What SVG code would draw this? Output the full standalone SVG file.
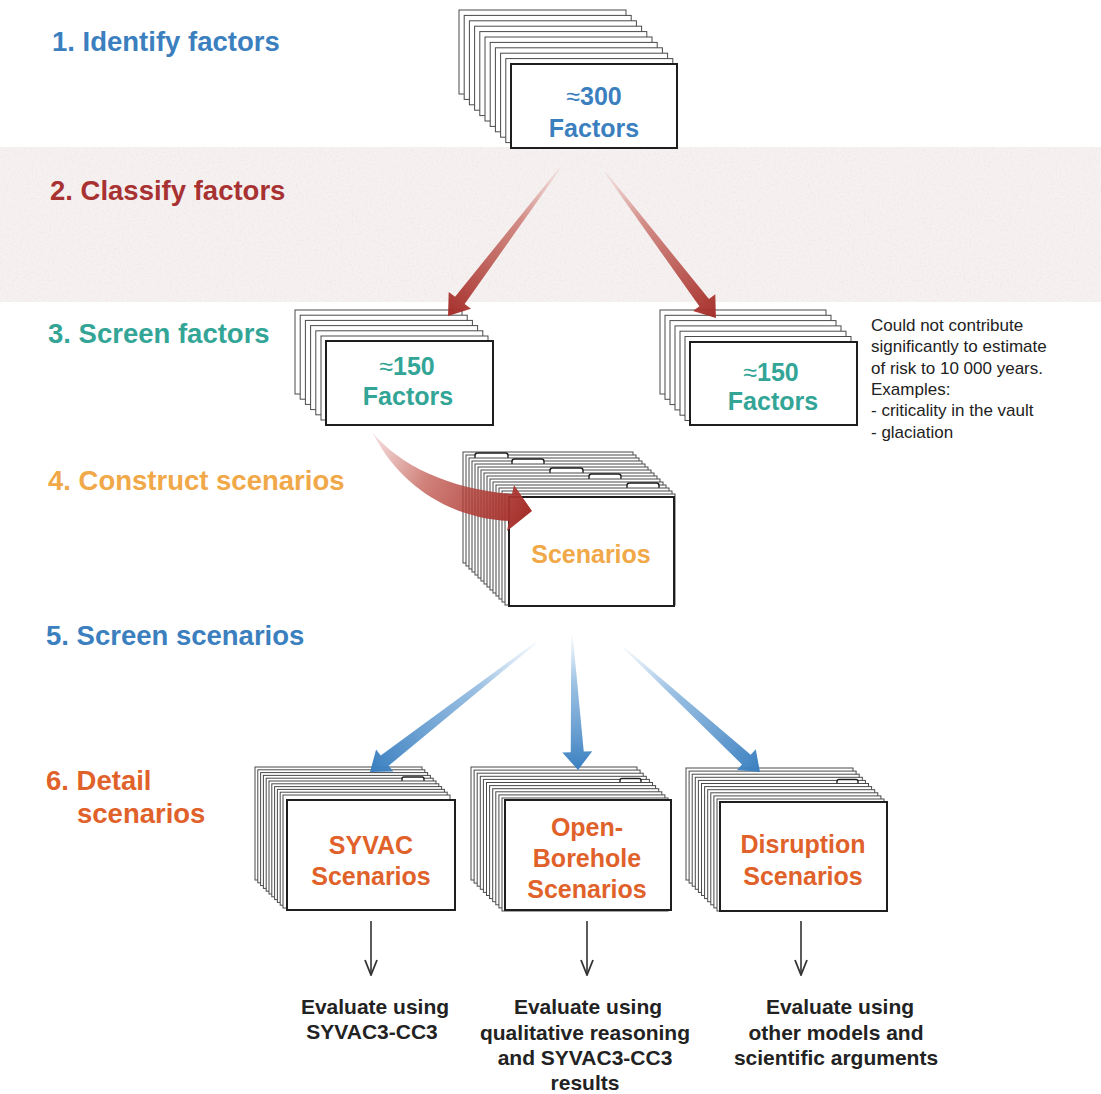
<svg xmlns="http://www.w3.org/2000/svg" xmlns:xlink="http://www.w3.org/1999/xlink" width="1101" height="1094" viewBox="0 0 1101 1094">
  <style>
    .bk { fill: #fff; stroke: #4a4a4a; stroke-width: 1; }
    .fr { fill: #fff; stroke: #1e1e1e; stroke-width: 2; }
    .tab { fill: #fff; stroke: #1e1e1e; stroke-width: 1.4; }
    .step { font-family: "Liberation Sans", Arial, sans-serif; font-weight: bold; font-size: 27.5px; }
    .card { font-family: "Liberation Sans", Arial, sans-serif; font-weight: bold; font-size: 25px; text-anchor: middle; }
    .approx { font-weight: normal; }
    .note { font-family: "Liberation Sans", Arial, sans-serif; font-size: 17px; fill: #222; }
    .eval { font-family: "Liberation Sans", Arial, sans-serif; font-weight: bold; font-size: 21px; fill: #222; text-anchor: middle; }
    .blue { fill: #3b7fbf; }
    .red { fill: #a83232; }
    .teal { fill: #33a596; }
    .orange { fill: #f0a848; }
    .rust { fill: #e0622a; }
    .thin { stroke: #333; stroke-width: 1.6; fill: none; }
  </style>
  <defs>
    <linearGradient id="gRed" x1="0" y1="0" x2="1" y2="0">
      <stop offset="0" stop-color="#c24a40" stop-opacity="0.05"/>
      <stop offset="0.35" stop-color="#bb4a40" stop-opacity="0.6"/>
      <stop offset="1" stop-color="#a52f2b" stop-opacity="1"/>
    </linearGradient>
    <linearGradient id="gBlue" x1="0" y1="0" x2="1" y2="0">
      <stop offset="0" stop-color="#6fa6d8" stop-opacity="0.05"/>
      <stop offset="0.35" stop-color="#5b98d0" stop-opacity="0.6"/>
      <stop offset="1" stop-color="#3a7fc0" stop-opacity="1"/>
    </linearGradient>
    <linearGradient id="gCurve" gradientUnits="userSpaceOnUse" x1="372" y1="432" x2="530" y2="512">
      <stop offset="0" stop-color="#c24a40" stop-opacity="0.15"/>
      <stop offset="0.4" stop-color="#bb4a40" stop-opacity="0.7"/>
      <stop offset="1" stop-color="#a52f2b" stop-opacity="1"/>
    </linearGradient>
    <marker id="ah" viewBox="-1 -8 17 16" refX="15" refY="0" markerWidth="17" markerHeight="16" markerUnits="userSpaceOnUse" orient="auto">
      <path d="M0,-6 L15,0 L0,6" fill="none" stroke="#333" stroke-width="1.8"/>
    </marker>
    <filter id="grain" x="0" y="0" width="100%" height="100%">
      <feTurbulence type="fractalNoise" baseFrequency="0.5" numOctaves="2" seed="4"/>
      <feColorMatrix type="matrix" values="0 0 0 0 0.84  0 0 0 0 0.74  0 0 0 0 0.74  0 0 0 -2.4 1.35"/>
    </filter>
  </defs>

  <!-- shaded classification band -->
  <g id="band">
    <rect x="0" y="147" width="1101" height="155" fill="#f6f1f1"/>
    <rect x="0" y="147" width="1101" height="155" filter="url(#grain)" opacity="0.5"/>
  </g>

  <!-- step labels -->
  <g id="steps">
    <text class="step blue" x="52" y="51">1. Identify factors</text>
    <text class="step red" x="50" y="200">2. Classify factors</text>
    <text class="step teal" x="48" y="343">3. Screen factors</text>
    <text class="step orange" x="48" y="490">4. Construct scenarios</text>
    <text class="step blue" x="46" y="645">5. Screen scenarios</text>
    <text class="step rust" x="46" y="790">6. Detail</text>
    <text class="step rust" x="77" y="823">scenarios</text>
  </g>

  <!-- stack of all identified factors -->
  <g id="factors300">
    <rect class="bk" x="459" y="10" width="167" height="84"/>
    <rect class="bk" x="464.2" y="15.4" width="167" height="84"/>
    <rect class="bk" x="469.4" y="20.8" width="167" height="84"/>
    <rect class="bk" x="474.6" y="26.2" width="167" height="84"/>
    <rect class="bk" x="479.8" y="31.6" width="167" height="84"/>
    <rect class="bk" x="485" y="37" width="167" height="84"/>
    <rect class="bk" x="490.2" y="42.4" width="167" height="84"/>
    <rect class="bk" x="495.4" y="47.8" width="167" height="84"/>
    <rect class="bk" x="500.6" y="53.2" width="167" height="84"/>
    <rect class="bk" x="505.8" y="58.6" width="167" height="84"/>
    <rect class="fr" x="511" y="64" width="166" height="84"/>
    <text class="card blue" x="594" y="105"><tspan class="approx">≈</tspan>300</text>
    <text class="card blue" x="594" y="137">Factors</text>
  </g>

  <!-- factors retained after screening -->
  <g id="factors150kept">
    <rect class="bk" x="295" y="310" width="167" height="84"/>
    <rect class="bk" x="300.2" y="315.2" width="167" height="84"/>
    <rect class="bk" x="305.4" y="320.4" width="167" height="84"/>
    <rect class="bk" x="310.6" y="325.6" width="167" height="84"/>
    <rect class="bk" x="315.8" y="330.8" width="167" height="84"/>
    <rect class="bk" x="321" y="336" width="167" height="84"/>
    <rect class="fr" x="326" y="341" width="167" height="84"/>
    <text class="card teal" x="407" y="375"><tspan class="approx">≈</tspan>150</text>
    <text class="card teal" x="408" y="405">Factors</text>
  </g>

  <!-- factors screened out -->
  <g id="factors150dropped">
    <rect class="bk" x="660" y="310" width="166" height="84"/>
    <rect class="bk" x="665" y="315.3" width="166" height="84"/>
    <rect class="bk" x="670" y="320.6" width="166" height="84"/>
    <rect class="bk" x="675" y="325.9" width="166" height="84"/>
    <rect class="bk" x="680" y="331.2" width="166" height="84"/>
    <rect class="bk" x="685" y="336.5" width="166" height="84"/>
    <rect class="fr" x="690" y="342" width="167" height="83"/>
    <text class="card teal" x="771" y="381"><tspan class="approx">≈</tspan>150</text>
    <text class="card teal" x="773" y="410">Factors</text>
    <text class="note" x="871" y="331">Could not contribute</text>
    <text class="note" x="871" y="352">significantly to estimate</text>
    <text class="note" x="871" y="374">of risk to 10 000 years.</text>
    <text class="note" x="871" y="395">Examples:</text>
    <text class="note" x="871" y="416">- criticality in the vault</text>
    <text class="note" x="871" y="438">- glaciation</text>
  </g>

  <!-- tabbed card file of scenarios -->
  <g id="scenarios">
    <rect class="bk" x="463" y="452" width="170" height="111"/>
    <rect class="bk" x="466" y="455" width="170" height="111"/>
    <rect class="tab" x="475" y="453" width="33" height="7" rx="2.5"/>
    <rect class="bk" x="469" y="458" width="170" height="111"/>
    <rect class="bk" x="472" y="461" width="170" height="111"/>
    <rect class="tab" x="512" y="459" width="32" height="7" rx="2.5"/>
    <rect class="bk" x="475" y="464" width="170" height="111"/>
    <rect class="bk" x="478" y="467" width="170" height="111"/>
    <rect class="bk" x="481" y="470" width="170" height="111"/>
    <rect class="tab" x="550" y="468" width="33" height="7" rx="2.5"/>
    <rect class="bk" x="484" y="473" width="170" height="111"/>
    <rect class="bk" x="487" y="476" width="170" height="111"/>
    <rect class="tab" x="589" y="474" width="32" height="7" rx="2.5"/>
    <rect class="bk" x="490" y="479" width="170" height="111"/>
    <rect class="bk" x="493" y="482" width="170" height="111"/>
    <rect class="bk" x="496" y="485" width="170" height="111"/>
    <rect class="tab" x="627" y="483" width="32" height="7" rx="2.5"/>
    <rect class="bk" x="499" y="488" width="170" height="111"/>
    <rect class="bk" x="502" y="491" width="170" height="111"/>
    <rect class="bk" x="505" y="494" width="170" height="111"/>
    <rect class="fr" x="509" y="497" width="165" height="109"/>
    <text class="card orange" x="591" y="563">Scenarios</text>
  </g>

  <!-- SYVAC scenario group -->
  <g id="syvac">
    <rect class="bk" x="255" y="767" width="167" height="113"/>
    <rect class="bk" x="257.8" y="769.8" width="167" height="113"/>
    <rect class="bk" x="260.6" y="772.6" width="167" height="113"/>
    <rect class="bk" x="263.4" y="775.4" width="167" height="113"/>
    <rect class="bk" x="266.2" y="778.2" width="167" height="113"/>
    <rect class="tab" x="402" y="777" width="22" height="6" rx="2"/>
    <rect class="bk" x="269" y="781" width="167" height="113"/>
    <rect class="bk" x="271.8" y="783.8" width="167" height="113"/>
    <rect class="bk" x="274.6" y="786.6" width="167" height="113"/>
    <rect class="bk" x="277.4" y="789.4" width="167" height="113"/>
    <rect class="bk" x="280.2" y="792.2" width="167" height="113"/>
    <rect class="bk" x="283" y="795" width="167" height="113"/>
    <rect class="fr" x="287" y="800" width="168" height="110"/>
    <text class="card rust" x="371" y="854">SYVAC</text>
    <text class="card rust" x="371" y="885">Scenarios</text>
  </g>

  <!-- open-borehole scenario group -->
  <g id="openBorehole">
    <rect class="bk" x="471" y="767" width="166" height="113"/>
    <rect class="bk" x="474.1" y="770.1" width="166" height="113"/>
    <rect class="bk" x="477.2" y="773.2" width="166" height="113"/>
    <rect class="bk" x="480.3" y="776.3" width="166" height="113"/>
    <rect class="bk" x="483.4" y="779.4" width="166" height="113"/>
    <rect class="tab" x="620" y="778.5" width="21" height="6" rx="2"/>
    <rect class="bk" x="486.5" y="782.5" width="166" height="113"/>
    <rect class="bk" x="489.6" y="785.6" width="166" height="113"/>
    <rect class="bk" x="492.7" y="788.7" width="166" height="113"/>
    <rect class="bk" x="495.8" y="791.8" width="166" height="113"/>
    <rect class="bk" x="498.9" y="794.9" width="166" height="113"/>
    <rect class="bk" x="502" y="798" width="166" height="113"/>
    <rect class="fr" x="505" y="800" width="166" height="110"/>
    <text class="card rust" x="587" y="836">Open-</text>
    <text class="card rust" x="587" y="867">Borehole</text>
    <text class="card rust" x="587" y="898">Scenarios</text>
  </g>

  <!-- disruption scenario group -->
  <g id="disruption">
    <rect class="bk" x="686" y="768" width="167" height="112"/>
    <rect class="bk" x="689.1" y="771.1" width="167" height="112"/>
    <rect class="bk" x="692.2" y="774.2" width="167" height="112"/>
    <rect class="bk" x="695.3" y="777.3" width="167" height="112"/>
    <rect class="bk" x="698.4" y="780.4" width="167" height="112"/>
    <rect class="tab" x="837" y="779.5" width="21" height="6" rx="2"/>
    <rect class="bk" x="701.5" y="783.5" width="167" height="112"/>
    <rect class="bk" x="704.6" y="786.6" width="167" height="112"/>
    <rect class="bk" x="707.7" y="789.7" width="167" height="112"/>
    <rect class="bk" x="710.8" y="792.8" width="167" height="112"/>
    <rect class="bk" x="713.9" y="795.9" width="167" height="112"/>
    <rect class="bk" x="717" y="799" width="167" height="112"/>
    <rect class="fr" x="720" y="802" width="167" height="109"/>
    <text class="card rust" x="803" y="853">Disruption</text>
    <text class="card rust" x="803" y="885">Scenarios</text>
  </g>

  <!-- evaluation notes -->
  <g id="evalSyvac">
    <text class="eval" x="375" y="1014">Evaluate using</text>
    <text class="eval" x="372" y="1039">SYVAC3-CC3</text>
  </g>
  <g id="evalBorehole">
    <text class="eval" x="588" y="1014">Evaluate using</text>
    <text class="eval" x="585" y="1040">qualitative reasoning</text>
    <text class="eval" x="585" y="1065">and SYVAC3-CC3</text>
    <text class="eval" x="585" y="1090">results</text>
  </g>
  <g id="evalDisruption">
    <text class="eval" x="840" y="1014">Evaluate using</text>
    <text class="eval" x="836" y="1040">other models and</text>
    <text class="eval" x="836" y="1065">scientific arguments</text>
  </g>

  <!-- connectors -->
  <g id="connectors">
    <!-- classification arrows: drawn along +x, then rotated into place -->
    <path transform="translate(560,168) rotate(127.1)" fill="url(#gRed)"
          d="M0,-0.8 L166,-6 L166,-14 L185.6,0 L166,14 L166,6 L0,0.8 Z"/>
    <path transform="translate(605,172) rotate(52.8)" fill="url(#gRed)"
          d="M0,-0.8 L164,-6 L164,-14 L183.4,0 L164,14 L164,6 L0,0.8 Z"/>
    <!-- curved arrow into the scenario file -->
    <path fill="url(#gCurve)"
          d="M372,432 C400,466 450,489 512,494 L514,485 L532,511 L507,531 L509,521 C448,518 400,484 375,437 Z"/>
    <!-- scenario screening arrows -->
    <path transform="translate(537,642) rotate(142.1)" fill="url(#gBlue)"
          d="M0,-0.8 L193,-6.5 L193,-14 L211.6,0 L193,14 L193,6.5 L0,0.8 Z"/>
    <path transform="translate(572,636) rotate(87.4)" fill="url(#gBlue)"
          d="M0,-0.8 L116,-6.5 L116,-15 L134.1,0 L116,15 L116,6.5 L0,0.8 Z"/>
    <path transform="translate(623,647) rotate(42.4)" fill="url(#gBlue)"
          d="M0,-0.8 L167,-6.5 L167,-14 L185.5,0 L167,14 L167,6.5 L0,0.8 Z"/>
    <!-- evaluation arrows -->
    <line class="thin" x1="371" y1="921" x2="371" y2="975" marker-end="url(#ah)"/>
    <line class="thin" x1="587" y1="921" x2="587" y2="975" marker-end="url(#ah)"/>
    <line class="thin" x1="801" y1="921" x2="801" y2="975" marker-end="url(#ah)"/>
  </g>
</svg>
